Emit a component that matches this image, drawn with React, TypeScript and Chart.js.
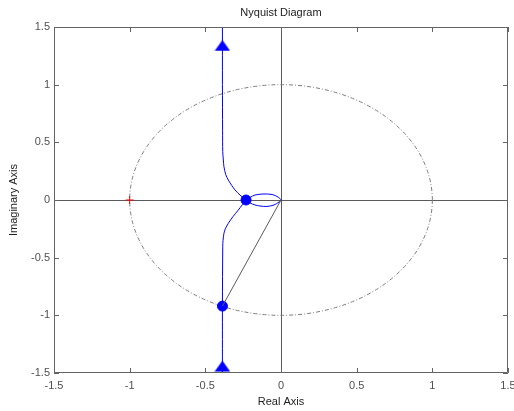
import { useEffect, useRef } from "react";
import { Chart, registerables } from "chart.js";

Chart.register(...registerables);

// Nyquist path, traced from the top asymptote down to the bottom one.
const branchUpperRe = [-0.387, -0.387, -0.386, -0.385, -0.381, -0.377, -0.365, -0.348, -0.325, -0.304, -0.271, -0.231];
const branchUpperIm = [1.5, 1.0, 0.6, 0.419, 0.347, 0.289, 0.22, 0.173, 0.125, 0.087, 0.043, 0];
const lobeLowerRe = [-0.205, -0.172, -0.139, -0.093, -0.046, -0.013, 0];
const lobeLowerIm = [-0.025, -0.043, -0.052, -0.056, -0.043, -0.017, 0];
const lobeUpperRe = [-0.02, -0.059, -0.119, -0.172, -0.205, -0.231];
const lobeUpperIm = [0.026, 0.048, 0.052, 0.043, 0.022, 0];
const branchLowerRe = [-0.255, -0.282, -0.318, -0.348, -0.368, -0.377, -0.383, -0.385, -0.387, -0.387];
const branchLowerIm = [-0.04, -0.087, -0.145, -0.202, -0.25, -0.289, -0.35, -0.405, -0.92, -1.5];

// Highlighted points and direction arrows
const markerRe = [-0.231, -0.387];
const markerIm = [0, -0.92];
const arrowRe = [-0.387, -0.387];
const arrowIm = [1.34, -1.44];
const criticalRe = [-1];
const criticalIm = [0];

// Axis setup
const axisMin = -1.5;
const axisMax = 1.5;
const tickStep = 0.5;
const titleText = "Nyquist Diagram";

const FONT = "'Liberation Sans', Arial, Helvetica, sans-serif";

const toPoints = (re: number[], im: number[]) => re.map((x, i) => ({ x, y: im[i] }));

const pathPoints = [
  ...toPoints(branchUpperRe, branchUpperIm),
  ...toPoints(lobeLowerRe, lobeLowerIm),
  ...toPoints(lobeUpperRe, lobeUpperIm),
  ...toPoints(branchLowerRe, branchLowerIm),
];

const tickLabel = (v: any) => String(Number(Number(v).toFixed(2)));

const framePlugin = {
  id: "matlabFrame",
  beforeDatasetsDraw(chart: any) {
    const { ctx, chartArea: a, scales } = chart;
    const xs = scales.x;
    const ys = scales.y;
    const x0 = xs.getPixelForValue(0);
    const y0 = ys.getPixelForValue(0);
    ctx.save();
    // zero lines
    ctx.strokeStyle = "#5a5a5a";
    ctx.lineWidth = 1;
    ctx.beginPath();
    ctx.moveTo(a.left, Math.round(y0) + 0.5);
    ctx.lineTo(a.right, Math.round(y0) + 0.5);
    ctx.moveTo(Math.round(x0) + 0.5, a.top);
    ctx.lineTo(Math.round(x0) + 0.5, a.bottom);
    ctx.stroke();
    // unit circle
    const rx = xs.getPixelForValue(1) - x0;
    const ry = y0 - ys.getPixelForValue(1);
    ctx.strokeStyle = "#7a7a7a";
    ctx.setLineDash([4, 2, 1, 2]);
    ctx.beginPath();
    ctx.ellipse(x0, y0, rx, ry, 0, 0, Math.PI * 2);
    ctx.stroke();
    ctx.restore();
  },
  afterDatasetsDraw(chart: any) {
    const { ctx, chartArea: a, scales } = chart;
    const len = 5;
    ctx.save();
    ctx.strokeStyle = "#646464";
    ctx.lineWidth = 1;
    ctx.beginPath();
    ctx.rect(Math.round(a.left) + 0.5, Math.round(a.top) + 0.5, Math.round(a.right - a.left) - 1, Math.round(a.bottom - a.top) - 1);
    ctx.stroke();
    ctx.beginPath();
    for (const t of scales.x.ticks) {
      const px = Math.round(scales.x.getPixelForValue(t.value)) + 0.5;
      ctx.moveTo(px, a.bottom);
      ctx.lineTo(px, a.bottom - len);
      ctx.moveTo(px, a.top);
      ctx.lineTo(px, a.top + len);
    }
    for (const t of scales.y.ticks) {
      const py = Math.round(scales.y.getPixelForValue(t.value)) + 0.5;
      ctx.moveTo(a.left, py);
      ctx.lineTo(a.left + len, py);
      ctx.moveTo(a.right, py);
      ctx.lineTo(a.right - len, py);
    }
    ctx.stroke();
    // title, centred over the plot box
    ctx.fillStyle = "#222222";
    ctx.font = `11px ${FONT}`;
    ctx.textAlign = "center";
    ctx.textBaseline = "middle";
    ctx.fillText(titleText, (a.left + a.right) / 2, 13);
    ctx.restore();
  },
};

export default function App() {
  const ref = useRef<HTMLCanvasElement>(null);

  useEffect(() => {
    // filled triangle used for the direction arrows
    const tri = document.createElement("canvas");
    tri.width = 16;
    tri.height = 12;
    const tc = tri.getContext("2d")!;
    tc.fillStyle = "#0000ff";
    tc.beginPath();
    tc.moveTo(8, 0.5);
    tc.lineTo(15.8, 11.5);
    tc.lineTo(0.2, 11.5);
    tc.closePath();
    tc.fill();

    const tickFont = { family: FONT, size: 11 };
    const chart = new Chart(ref.current!, {
      type: "scatter",
      data: {
        datasets: [
          {
            data: [{ x: 0, y: 0 }, { x: markerRe[1], y: markerIm[1] }],
            showLine: true,
            borderColor: "#5a5a5a",
            borderWidth: 1,
            pointRadius: 0,
          },
          {
            data: pathPoints,
            showLine: true,
            borderColor: "#0000ff",
            borderWidth: 1,
            pointRadius: 0,
            tension: 0.3,
          },
          {
            data: toPoints(markerRe, markerIm),
            pointRadius: 5,
            pointBackgroundColor: "#0000ff",
            pointBorderColor: "#0000ff",
          },
          {
            data: toPoints(arrowRe, arrowIm),
            pointStyle: tri as any,
            pointRadius: 8,
          },
          {
            data: toPoints(criticalRe, criticalIm),
            pointStyle: "cross",
            pointRadius: 4,
            pointBorderColor: "#ff0000",
            pointBorderWidth: 1,
          },
        ],
      },
      options: {
        responsive: false,
        animation: false,
        events: [],
        layout: { autoPadding: false, padding: { left: 0, right: 6, top: 27, bottom: 0 } },
        plugins: {
          legend: { display: false },
          tooltip: { enabled: false },
          title: { display: false },
        },
        scales: {
          x: {
            type: "linear",
            min: axisMin,
            max: axisMax,
            grid: { display: false, drawTicks: false },
            border: { display: false },
            ticks: { stepSize: tickStep, color: "#505050", font: tickFont, padding: 6, maxRotation: 0, callback: tickLabel },
            title: {
              display: true,
              text: "Real Axis",
              color: "#222222",
              font: { family: FONT, size: 11 },
              padding: { top: 0, bottom: 2.4 },
            },
            afterFit(s: any) {
              s.height = 38;
              s.paddingLeft = 0;
              s.paddingRight = 0;
            },
          },
          y: {
            type: "linear",
            min: axisMin,
            max: axisMax,
            grid: { display: false, drawTicks: false },
            border: { display: false },
            ticks: { stepSize: tickStep, color: "#505050", font: tickFont, padding: 4, callback: tickLabel },
            title: {
              display: true,
              text: "Imaginary Axis",
              color: "#222222",
              font: { family: FONT, size: 11 },
              padding: { top: 7.4, bottom: 0 },
            },
            afterFit(s: any) {
              s.width = 54;
              s.paddingTop = 0;
              s.paddingBottom = 0;
            },
          },
        },
      },
      plugins: [framePlugin],
    } as any);
    return () => chart.destroy();
  }, []);

  return (
    <div style={{ position: "fixed", left: 0, top: 0, width: 514, height: 411, background: "#ffffff" }}>
      <canvas ref={ref} width={514} height={411} style={{ display: "block", width: 514, height: 411 }} />
    </div>
  );
}
